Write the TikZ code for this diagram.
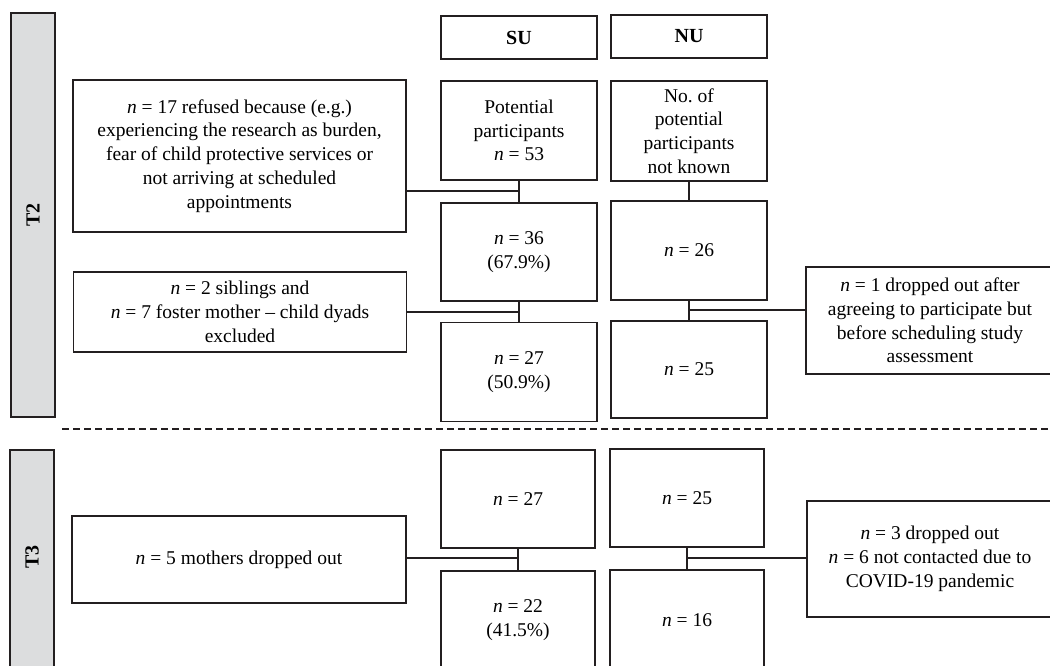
\documentclass[tikz,border=0pt]{standalone}
\usepackage{fontspec}
\setmainfont{Liberation Serif}
\frenchspacing
\newcommand\itn{\textit{n}}
\definecolor{edge}{RGB}{35,31,32}
\definecolor{barfill}{RGB}{220,221,222}
\begin{document}
\begin{tikzpicture}[x=1pt,y=-1pt,
  every node/.style={font=\fontsize{19.5}{23.8}\selectfont},
  box/.style={draw=edge, line width=1.9pt, rectangle, inner sep=0pt, align=center, fill=white},
  bar/.style={draw=edge, line width=1.9pt, rectangle, inner sep=0pt, fill=barfill},
  link/.style={draw=edge, line width=1.8pt},
  sep/.style={draw=edge, line width=1.8pt, dash pattern=on 7pt off 4pt}]
\useasboundingbox (0,0) rectangle (1050,666);
% phase bars
\node[bar, minimum width=44pt, minimum height=404pt] (t2bar) at (33,215) {};
\node[rotate=90, font=\fontsize{20}{24}\selectfont\bfseries] (t2lab) at (33,215) {T2};
\node[bar, minimum width=44pt, minimum height=250pt] (t3bar) at (32,575) {};
\node[rotate=90, font=\fontsize{20}{24}\selectfont\bfseries] (t3lab) at (32,557) {T3};
% headers
\node[box, minimum width=156pt, minimum height=43pt, font=\fontsize{20}{24}\selectfont\bfseries] (su) at (519,37.5) {SU};
\node[box, minimum width=156pt, minimum height=43pt, font=\fontsize{20}{24}\selectfont\bfseries] (nu) at (689,36.5) {NU};
% T2 boxes
\node[box, minimum width=156pt, minimum height=99pt] (pot) at (519,130.5) {Potential\\participants\\\itn{} = 53};
\node[box, minimum width=156pt, minimum height=100pt] (nok) at (689,131) {No.\ of\\potential\\participants\\not known};
\node[box, minimum width=156pt, minimum height=98pt] (s36) at (519,252) {\itn{} = 36\\(67.9\%)};
\node[box, minimum width=156pt, minimum height=99pt] (n26) at (689,250.5) {\itn{} = 26};
\node[box, minimum width=156pt, minimum height=99pt] (s27) at (519,372) {\itn{} = 27\\(50.9\%)};
\node[box, minimum width=156pt, minimum height=97pt] (n25) at (689,369.5) {\itn{} = 25};
\node[box, minimum width=333pt, minimum height=152pt] (refused) at (239.5,156) {\itn{} = 17 refused because (e.g.)\\experiencing the research as burden,\\fear of child protective services or\\not arriving at scheduled\\appointments};
\node[box, minimum width=333pt, minimum height=80pt] (sib) at (240,312) {\itn{} = 2 siblings and\\\itn{} = 7 foster mother -- child dyads\\excluded};
\node[box, minimum width=248pt, minimum height=107pt] (drop1) at (930,320.5) {\itn{} = 1 dropped out after\\agreeing to participate but\\before scheduling study\\assessment};
% separator
\coordinate (sepa) at (62,429);
\coordinate (sepb) at (1050,429);
\draw[sep] (sepa) -- (sepb);
% T3 boxes
\node[box, minimum width=154pt, minimum height=98pt] (t3s27) at (518,499) {\itn{} = 27};
\node[box, minimum width=154pt, minimum height=98pt] (t3n25) at (687,498) {\itn{} = 25};
\node[box, minimum width=154pt, minimum height=99pt] (s22) at (518,620.5) {\itn{} = 22\\(41.5\%)};
\node[box, minimum width=154pt, minimum height=100pt] (n16) at (687,620) {\itn{} = 16};
\node[box, minimum width=334pt, minimum height=87pt] (moth) at (239,559.5) {\itn{} = 5 mothers dropped out};
\node[box, minimum width=246pt, minimum height=116pt] (drop3) at (930,559) {\itn{} = 3 dropped out\\\itn{} = 6 not contacted due to\\COVID-19 pandemic};
% junctions
\coordinate (j1) at (519,191);
\coordinate (j2) at (519,312);
\coordinate (j3) at (689,310);
\coordinate (j4) at (518,558);
\coordinate (j5) at (687,558);
% connectors
\draw[link] (pot.south) -- (s36.north);
\draw[link] (refused.east |- j1) -- (j1);
\draw[link] (s36.south) -- (s27.north);
\draw[link] (sib.east |- j2) -- (j2);
\draw[link] (nok.south) -- (n26.north);
\draw[link] (n26.south) -- (n25.north);
\draw[link] (j3) -- (drop1.west |- j3);
\draw[link] (t3s27.south) -- (s22.north);
\draw[link] (moth.east |- j4) -- (j4);
\draw[link] (t3n25.south) -- (n16.north);
\draw[link] (j5) -- (drop3.west |- j5);
\end{tikzpicture}
\end{document}
